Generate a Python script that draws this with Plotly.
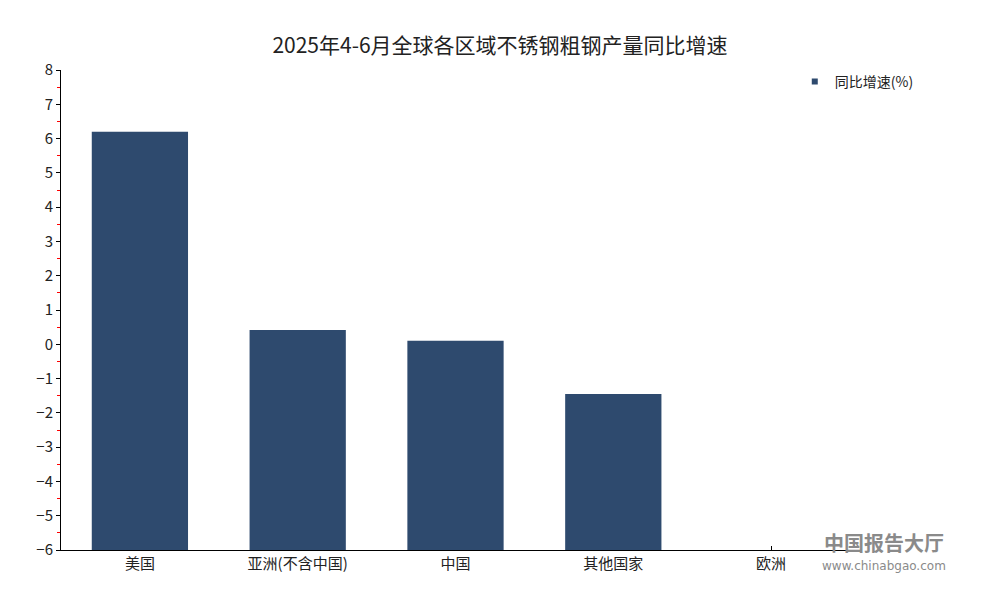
''' 2025年4-6月全球各区域不锈钢粗钢产量同比增速 柱状图 '''
import plotly.graph_objects as go

regions = ['美国', '亚洲(不含中国)', '中国', '其他国家', '欧洲']
growth = [6.2, 0.42, 0.1, -1.45, -7.5]
y_ticks = list(range(-6, 9))

AXIS_MIN = -6
AXIS_MAX = 8
FONT = 'Noto Sans CJK SC'


def draw_plot():
    ''' bars start at the bottom of the axis, like the source chart '''
    fig = go.Figure()
    fig.add_trace(go.Bar(
        x=regions,
        y=[v - AXIS_MIN for v in growth],
        base=AXIS_MIN,
        name='同比增速(%)',
        showlegend=False,
        marker=dict(color='#2e4a6e', line=dict(width=0)),
        hovertemplate='%{x}: %{customdata}<extra></extra>',
        customdata=growth,
    ))
    # legend entry with a small square marker
    fig.add_trace(go.Scatter(
        x=[None], y=[None], mode='markers', name='同比增速(%)',
        marker=dict(symbol='square', size=6, color='#2e4a6e'),
    ))

    fig.update_layout(
        width=984, height=584,
        paper_bgcolor='white', plot_bgcolor='white',
        font=dict(family=FONT, size=15, color='#222'),
        title=dict(text='2025年4-6月全球各区域不锈钢粗钢产量同比增速',
                   x=0.5, xanchor='center', y=0.935, yanchor='middle',
                   font=dict(size=21, color='#222')),
        margin=dict(l=53, r=142, t=62, b=42),
        bargap=0.39,
        showlegend=True,
        legend=dict(x=0.93, xanchor='left', y=0.975, yanchor='middle',
                    bgcolor='rgba(0,0,0,0)', itemwidth=30,
                    font=dict(size=14)),
    )
    fig.update_xaxes(
        showline=True, linecolor='black', linewidth=1,
        ticks='inside', ticklen=4, tickcolor='black',
        showgrid=False, layer='below traces',
        tickfont=dict(size=15),
    )
    fig.update_yaxes(
        range=[AXIS_MIN, AXIS_MAX], tickvals=y_ticks,
        ticktext=[str(t).replace('-', '−') for t in y_ticks],
        showline=True, linecolor='black', linewidth=1,
        ticks='outside', ticklen=4, tickcolor='black',
        minor=dict(dtick=0.5, ticks='outside', ticklen=3, tickcolor='red'),
        showgrid=False, zeroline=False,
        tickfont=dict(size=15),
    )

    # watermark
    fig.add_annotation(text='<b>中国报告大厅</b>', xref='paper', yref='paper',
                       x=1.043, y=0.016, xanchor='center', yanchor='middle',
                       showarrow=False, font=dict(size=20, color='#8a8a8a'))
    fig.add_annotation(text='www.chinabgao.com', xref='paper', yref='paper',
                       x=1.043, y=-0.033, xanchor='center', yanchor='middle',
                       showarrow=False, font=dict(size=12, color='#8a8a8a',
                                                  family='DejaVu Sans'))
    fig.write_html('out.html')


if __name__ == '__main__':
    draw_plot()
